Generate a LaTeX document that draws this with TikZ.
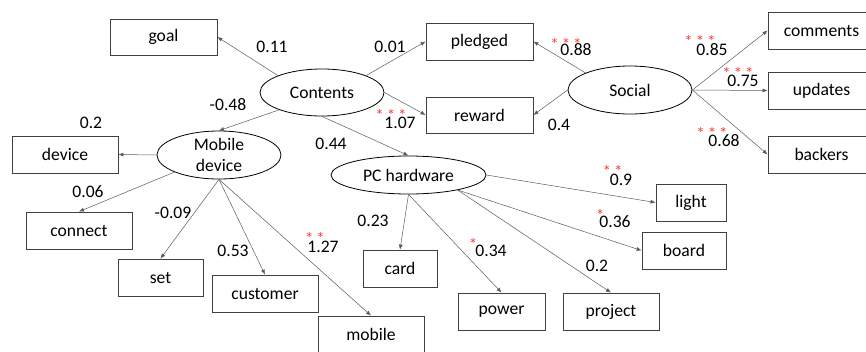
\documentclass[tikz,border=0pt]{standalone}
\usepackage{fontspec}
\setmainfont{Carlito}
\usetikzlibrary{shapes.geometric}
\usetikzlibrary{arrows.meta}

\definecolor{boxline}{HTML}{404040}
\definecolor{arrline}{HTML}{5A5A5A}
\definecolor{starred}{HTML}{FF3B3B}

\begin{document}
\begin{tikzpicture}[x=1pt,y=-1pt,
  font=\fontsize{17.6}{21}\selectfont,
  item/.style={draw=boxline,line width=0.8pt,rectangle,inner sep=0pt,minimum height=37pt},
  factor/.style={draw=black,line width=0.8pt,ellipse,inner sep=0pt,align=center},
  path/.style={draw=arrline,line width=0.5pt,-{Latex[length=5pt,width=4pt]}},
  coef/.style={inner sep=0pt},
  stars/.style={text=starred,anchor=base,inner sep=0pt,font=\fontsize{17}{17}\selectfont}]
\useasboundingbox (0,0) rectangle (866,351);

% latent factors
\node[factor,minimum width=124pt,minimum height=47pt] (contents) at (322,92.5) {Contents};
\node[factor,minimum width=124pt,minimum height=48pt] (social) at (630,90) {Social};
\node[factor,minimum width=124pt,minimum height=48pt] (mobiledev) at (219,155) {Mobile\\device};
\node[factor,minimum width=155pt,minimum height=38pt] (pchw) at (408.5,175) {PC hardware};

% observed items
\node[item,minimum width=107pt,minimum height=36pt] (goal) at (163.5,37) {goal};
\node[item,minimum width=107pt] (pledged) at (479.5,41.5) {pledged};
\node[item,minimum width=107pt,minimum height=36pt] (reward) at (479.5,115) {reward};
\node[item,minimum width=107pt] (comments) at (821.5,30.5) {comments};
\node[item,minimum width=107pt] (updates) at (821.5,90.5) {updates};
\node[item,minimum width=107pt] (backers) at (821.5,154.5) {backers};
\node[item,minimum width=106pt] (device) at (65,154.5) {device};
\node[item,minimum width=106pt] (connect) at (79,230.5) {connect};
\node[item,minimum width=85pt] (set) at (160.5,277.5) {set};
\node[item,minimum width=106pt] (customer) at (265,293.5) {customer};
\node[item,minimum width=106pt] (mobile) at (371,334.5) {mobile};
\node[item,minimum width=74pt] (card) at (400,268.5) {card};
\node[item,minimum width=70pt] (light) at (691,202.5) {light};
\node[item,minimum width=84pt] (board) at (684,250.5) {board};
\node[item,minimum width=87pt] (power) at (501.5,311.5) {power};
\node[item,minimum width=96pt] (project) at (611,311.5) {project};

% paths
\draw[path] (contents.159) -- (goal.east);
\draw[path] (contents.21) -- (pledged.west);
\draw[path] (contents.east) -- (reward.west);
\draw[path] (contents.202) -- (mobiledev.north);
\draw[path] (contents.south) -- (pchw.north);
\draw[path] (social.159) -- (pledged.east);
\draw[path] (social.west) -- (reward.east);
\draw[path] (social.east) -- (comments.west);
\draw[path] (social.east) -- (updates.west);
\draw[path] (social.east) -- (backers.west);
\draw[path] (mobiledev.west) -- (device.east);
\draw[path] (mobiledev.201) -- (connect.north);
\draw[path] (mobiledev.south) -- (set.north);
\draw[path] (mobiledev.south) -- (customer.north);
\draw[path] (mobiledev.south) -- (mobile.north);
\draw[path] (pchw.south) -- (card.north);
\draw[path] (pchw.south) -- (power.north);
\draw[path] (pchw.343) -- (project.north);
\draw[path] (pchw.343) -- (board.west);
\draw[path] (pchw.east) -- (light.west);

% coefficients
\node[coef] (c-goal) at (272,47) {0.11};
\node[coef] (c-pledged) at (390,47) {0.01};
\node[coef] (c-mobiledev) at (228,105) {-0.48};
\node[coef] (c-reward) at (400,123) {1.07};
\node[coef] (c-pchw) at (331,144) {0.44};
\node[coef] (c-device) at (91,123) {0.2};
\node[coef] (c-connect) at (88,192) {0.06};
\node[coef] (c-set) at (173,213) {-0.09};
\node[coef] (c-customer) at (233,251) {0.53};
\node[coef] (c-mobile) at (323,247) {1.27};
\node[coef] (c-card) at (373,221) {0.23};
\node[coef] (s-pledged) at (576,50) {0.88};
\node[coef] (s-reward) at (559,125) {0.4};
\node[coef] (s-comments) at (712,50) {0.85};
\node[coef] (s-updates) at (743,81) {0.75};
\node[coef] (s-backers) at (724,141) {0.68};
\node[coef] (p-light) at (621,180) {0.9};
\node[coef] (p-board) at (615,222) {0.36};
\node[coef] (p-power) at (491,251) {0.34};
\node[coef] (p-project) at (597,266) {0.2};

% significance marks
\node[stars] at (391,121) {*\hspace{3pt}*\hspace{3pt}*};
\node[stars] at (315,244) {*\hspace{3pt}*};
\node[stars] at (566,50) {*\hspace{3pt}*\hspace{3pt}*};
\node[stars] at (700,47) {*\hspace{3pt}*\hspace{3pt}*};
\node[stars] at (738,79) {*\hspace{3pt}*\hspace{3pt}*};
\node[stars] at (712,139) {*\hspace{3pt}*\hspace{3pt}*};
\node[stars] at (612.5,177) {*\hspace{3pt}*};
\node[stars] at (600,221) {*};
\node[stars] at (473,250) {*};

\end{tikzpicture}
\end{document}
